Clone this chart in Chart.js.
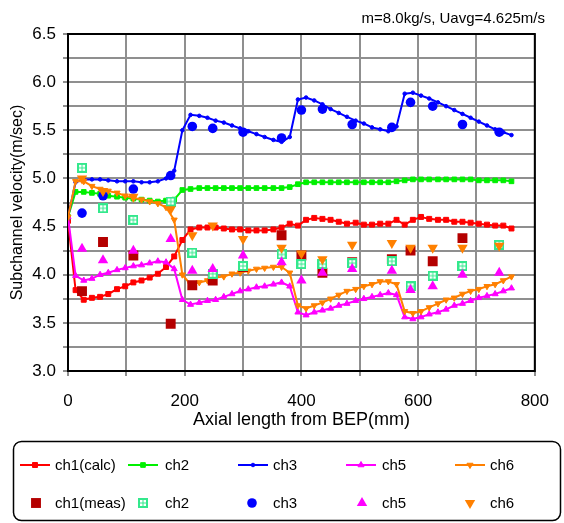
<!DOCTYPE html>
<html>
<head>
<meta charset="utf-8">
<script src="https://cdn.jsdelivr.net/npm/chart.js@4.4.1/dist/chart.umd.min.js"></script>
<style>
  html, body { margin: 0; padding: 0; background: #ffffff; }
  #wrap { width: 564px; height: 523px; }
</style>
</head>
<body>
<div id="wrap"><canvas id="velocity-chart" width="564" height="523"></canvas></div>
<script>
// Subchannel velocity along the bundle - calc lines + measured points

// Axial positions of the calculation nodes (mm)
const axialCalc = [0, 13, 27, 41, 55, 69, 84, 98, 112, 126, 140, 154, 168, 182, 196, 210, 225, 239, 253, 267,
    281, 295, 309, 323, 337, 352, 366, 380, 394, 408, 422, 436, 450, 464, 478, 493, 507, 521, 535, 549,
    563, 577, 591, 605, 619, 634, 648, 662, 676, 690, 704, 718, 732, 746, 760];

const ch1Calc = [4.56, 3.84, 3.74, 3.76, 3.77, 3.80, 3.85, 3.88, 3.92, 3.94, 3.97, 4.01, 4.08, 4.19, 4.36, 4.47, 4.49, 4.49, 4.49, 4.48,
    4.47, 4.47, 4.46, 4.46, 4.46, 4.47, 4.49, 4.53, 4.51, 4.57, 4.59, 4.58, 4.57, 4.55, 4.53, 4.54, 4.52, 4.52, 4.53, 4.53,
    4.57, 4.52, 4.57, 4.60, 4.58, 4.57, 4.57, 4.55, 4.55, 4.54, 4.53, 4.52, 4.51, 4.51, 4.48];
const ch2Calc = [4.60, 4.86, 4.86, 4.85, 4.84, 4.82, 4.81, 4.80, 4.79, 4.78, 4.77, 4.76, 4.77, 4.78, 4.88, 4.89, 4.90, 4.90, 4.90, 4.90,
    4.90, 4.90, 4.90, 4.90, 4.90, 4.90, 4.90, 4.91, 4.94, 4.96, 4.96, 4.96, 4.96, 4.96, 4.96, 4.96, 4.96, 4.96, 4.96, 4.96,
    4.97, 4.98, 4.99, 4.99, 4.99, 4.99, 4.99, 4.99, 4.99, 4.99, 4.98, 4.98, 4.98, 4.98, 4.97];
const ch3Calc = [4.60, 4.96, 4.99, 4.99, 4.99, 4.98, 4.97, 4.97, 4.97, 4.96, 4.96, 4.97, 5.00, 5.08, 5.50, 5.66, 5.65, 5.63, 5.60, 5.58,
    5.55, 5.52, 5.49, 5.46, 5.43, 5.40, 5.38, 5.43, 5.82, 5.84, 5.81, 5.77, 5.72, 5.68, 5.64, 5.60, 5.57, 5.53, 5.51, 5.49,
    5.54, 5.88, 5.89, 5.86, 5.83, 5.79, 5.75, 5.71, 5.67, 5.63, 5.59, 5.55, 5.51, 5.48, 5.45];
const ch5Calc = [4.60, 3.99, 3.94, 3.96, 4.00, 4.02, 4.05, 4.07, 4.09, 4.10, 4.12, 4.14, 4.13, 4.06, 3.74, 3.69, 3.71, 3.73, 3.74, 3.77,
    3.80, 3.83, 3.85, 3.87, 3.88, 3.90, 3.92, 3.88, 3.61, 3.58, 3.61, 3.63, 3.65, 3.68, 3.70, 3.73, 3.75, 3.77, 3.79, 3.81,
    3.79, 3.56, 3.54, 3.56, 3.59, 3.61, 3.64, 3.68, 3.70, 3.73, 3.76, 3.78, 3.80, 3.83, 3.86];
const ch6Calc = [4.60, 4.97, 4.97, 4.92, 4.89, 4.87, 4.85, 4.82, 4.80, 4.78, 4.76, 4.74, 4.70, 4.57, 4.00, 3.90, 3.92, 3.94, 3.97, 3.98,
    4.01, 4.02, 4.04, 4.06, 4.07, 4.08, 4.08, 4.02, 3.68, 3.65, 3.68, 3.71, 3.75, 3.79, 3.83, 3.85, 3.88, 3.90, 3.93, 3.93,
    3.90, 3.62, 3.60, 3.62, 3.66, 3.70, 3.74, 3.76, 3.80, 3.83, 3.85, 3.88, 3.90, 3.94, 3.98];

// Axial positions of the measuring stations (mm)
const axialMeas = [24, 60, 112, 176, 213, 248, 300, 366, 400, 436, 487, 555, 587, 625, 676, 739];

const ch1Meas = [3.83, 4.34, 4.20, 3.49, 3.89, 3.94, 4.08, 4.41, 4.20, 4.02, 4.13, 4.16, 4.25, 4.14, 4.38, null];
const ch2Meas = [5.11, 4.69, 4.57, 4.76, 4.23, 4.01, 4.09, 4.21, 4.11, 4.11, 4.12, 4.14, 3.88, 3.99, 4.09, 4.31];
const ch3Meas = [4.64, 4.82, 4.89, 5.03, 5.54, 5.52, 5.48, 5.42, 5.71, 5.72, 5.56, 5.53, 5.79, 5.75, 5.56, 5.48];
const ch5Meas = [4.27, 4.15, 4.25, 4.37, 4.04, 4.06, 4.20, 4.13, 3.94, 4.02, 4.06, 4.04, 3.84, 3.88, 4.00, 4.02];
const ch6Meas = [5.00, 4.87, 4.81, 4.68, 4.41, 4.51, 4.37, 4.28, 4.22, 4.16, 4.31, 4.33, 4.28, 4.28, 4.28, 4.30];

const calcLabels = ['ch1(calc)', 'ch2', 'ch3', 'ch5', 'ch6'];
const measLabels = ['ch1(meas)', 'ch2', 'ch3', 'ch5', 'ch6'];
const chartTitle = 'm=8.0kg/s, Uavg=4.625m/s';
const xTitle = 'Axial length from BEP(mm)';
const yTitle = 'Subchannel velocity(m/sec)';

const FONT = "'Liberation Sans', Arial, sans-serif";

/**
 * Petit carré "grille" pour les mesures ch2
 */
function makeGridBox(color) {
    const c = document.createElement('canvas');
    c.width = 10;
    c.height = 10;
    const g = c.getContext('2d');
    g.fillStyle = color;
    g.fillRect(0, 0, 10, 10);
    g.fillStyle = '#ffffff';
    g.fillRect(2, 2, 2.5, 2.5);
    g.fillRect(5.5, 2, 2.5, 2.5);
    g.fillRect(2, 5.5, 2.5, 2.5);
    g.fillRect(5.5, 5.5, 2.5, 2.5);
    return c;
}

function toPoints(xs, ys) {
    return xs.map((x, i) => ({ x: x, y: ys[i] }));
}

function calcDataset(label, values, color, style, radius, rotation, order) {
    return {
        label: label,
        data: toPoints(axialCalc, values),
        borderColor: color,
        backgroundColor: color,
        borderWidth: 2,
        tension: 0,
        pointStyle: style,
        pointRadius: radius,
        pointRotation: rotation,
        pointBackgroundColor: color,
        pointBorderColor: color,
        pointBorderWidth: 1,
        order: order
    };
}

function measDataset(label, values, color, style, radius, rotation, order) {
    return {
        label: label,
        data: toPoints(axialMeas, values),
        showLine: false,
        borderColor: color,
        backgroundColor: color,
        pointStyle: style,
        pointRadius: radius,
        pointRotation: rotation,
        pointBackgroundColor: color,
        pointBorderColor: color,
        pointBorderWidth: 0,
        order: order
    };
}

const gridBox = makeGridBox('#33E88C');

const datasets = [
    calcDataset(calcLabels[0], ch1Calc, '#FF0000', 'rect', 3.5, 0, 9),
    calcDataset(calcLabels[1], ch2Calc, '#00F000', 'rect', 3.3, 0, 8),
    calcDataset(calcLabels[2], ch3Calc, '#0000FF', 'circle', 1.8, 0, 7),
    calcDataset(calcLabels[3], ch5Calc, '#FF00FF', 'triangle', 3.5, 0, 6),
    calcDataset(calcLabels[4], ch6Calc, '#FF8000', 'triangle', 3.5, 180, 5),
    measDataset(measLabels[0], ch1Meas, '#B40000', 'rect', 7, 0, 4),
    measDataset(measLabels[1], ch2Meas, '#33E88C', gridBox, 5, 0, 3),
    measDataset(measLabels[2], ch3Meas, '#0000FF', 'circle', 4.8, 0, 2),
    measDataset(measLabels[3], ch5Meas, '#FF00FF', 'triangle', 6, 0, 1),
    measDataset(measLabels[4], ch6Meas, '#FF8000', 'triangle', 6, 180, 0)
];

function drawMarker(ctx, ds, x, y) {
    ctx.save();
    ctx.fillStyle = ds.pointBackgroundColor;
    ctx.strokeStyle = ds.pointBorderColor;
    ctx.lineWidth = ds.pointBorderWidth;
    Chart.helpers.drawPoint(ctx, {
        pointStyle: ds.pointStyle,
        rotation: ds.pointRotation || 0,
        radius: ds.pointRadius,
        borderWidth: ds.pointBorderWidth
    }, x, y);
    ctx.restore();
}

// Cadre noir, titre en haut à droite et légende encadrée en bas
const chartFrame = {
    id: 'chartFrame',
    beforeDatasetsDraw(chart) {
        const ctx = chart.ctx;
        const a = chart.chartArea;
        ctx.save();
        ctx.strokeStyle = '#000000';
        ctx.lineWidth = 2;
        ctx.strokeRect(a.left, a.top, a.right - a.left, a.bottom - a.top);
        ctx.restore();
    },
    afterDraw(chart) {
        const ctx = chart.ctx;
        ctx.save();
        ctx.fillStyle = '#000000';
        ctx.font = '15px ' + FONT;
        ctx.textAlign = 'right';
        ctx.textBaseline = 'alphabetic';
        ctx.fillText(chartTitle, 545, 23);

        // boîte de légende
        ctx.strokeStyle = '#000000';
        ctx.lineWidth = 1.5;
        ctx.beginPath();
        ctx.roundRect(13.5, 441.5, 547, 79, 8);
        ctx.stroke();

        const lineX = [20, 128, 238, 346, 455];
        const markX = [36, 143, 252, 362, 470];
        const textX = [55, 165, 273, 382, 490];
        const rowY = [465, 503];
        ctx.font = '15px ' + FONT;
        ctx.textAlign = 'left';
        ctx.textBaseline = 'middle';
        for (let i = 0; i < 5; i++) {
            const line = datasets[i];
            ctx.strokeStyle = line.borderColor;
            ctx.lineWidth = 2;
            ctx.beginPath();
            ctx.moveTo(lineX[i], rowY[0]);
            ctx.lineTo(lineX[i] + 30, rowY[0]);
            ctx.stroke();
            drawMarker(ctx, line, lineX[i] + 15, rowY[0]);
            ctx.fillStyle = '#000000';
            ctx.fillText(line.label, textX[i], rowY[0] + 1);

            const meas = datasets[i + 5];
            drawMarker(ctx, meas, markX[i], rowY[1]);
            ctx.fillStyle = '#000000';
            ctx.fillText(meas.label, textX[i], rowY[1] + 1);
        }
        ctx.restore();
    }
};

const ctx = document.getElementById('velocity-chart').getContext('2d');
const velocityChart = new Chart(ctx, {
    type: 'line',
    data: { datasets: datasets },
    options: {
        responsive: false,
        animation: false,
        devicePixelRatio: 1,
        layout: { padding: { left: 0, right: 23, top: 34, bottom: 90 } },
        plugins: {
            legend: { display: false },
            tooltip: { enabled: false }
        },
        scales: {
            x: {
                type: 'linear',
                min: 0,
                max: 800,
                border: { display: false },
                grid: { color: '#8f8f8f', lineWidth: 2, tickLength: 5, tickColor: '#8f8f8f' },
                ticks: {
                    stepSize: 100,
                    autoSkip: false,
                    maxRotation: 0,
                    padding: 15,
                    color: '#000000',
                    font: { family: FONT, size: 17 },
                    callback: (v) => (v % 200 === 0 ? String(v) : '')
                },
                title: {
                    display: true,
                    text: xTitle,
                    color: '#000000',
                    font: { family: FONT, size: 18 },
                    padding: { top: 0, bottom: 2 }
                },
                afterFit: (s) => { s.height = 62; }
            },
            y: {
                min: 3,
                max: 6.5,
                border: { display: false },
                grid: { color: '#8f8f8f', lineWidth: 2, tickLength: 5, tickColor: '#8f8f8f' },
                ticks: {
                    stepSize: 0.25,
                    autoSkip: false,
                    padding: 7,
                    color: '#000000',
                    font: { family: FONT, size: 17 },
                    callback: (v) => (Math.abs(v * 2 - Math.round(v * 2)) < 1e-6 ? v.toFixed(1) : '')
                },
                title: {
                    display: true,
                    text: yTitle,
                    color: '#000000',
                    font: { family: FONT, size: 16 },
                    padding: { top: 8, bottom: 0 }
                },
                afterFit: (s) => { s.width = 68; }
            }
        }
    },
    plugins: [chartFrame]
});
</script>
</body>
</html>
